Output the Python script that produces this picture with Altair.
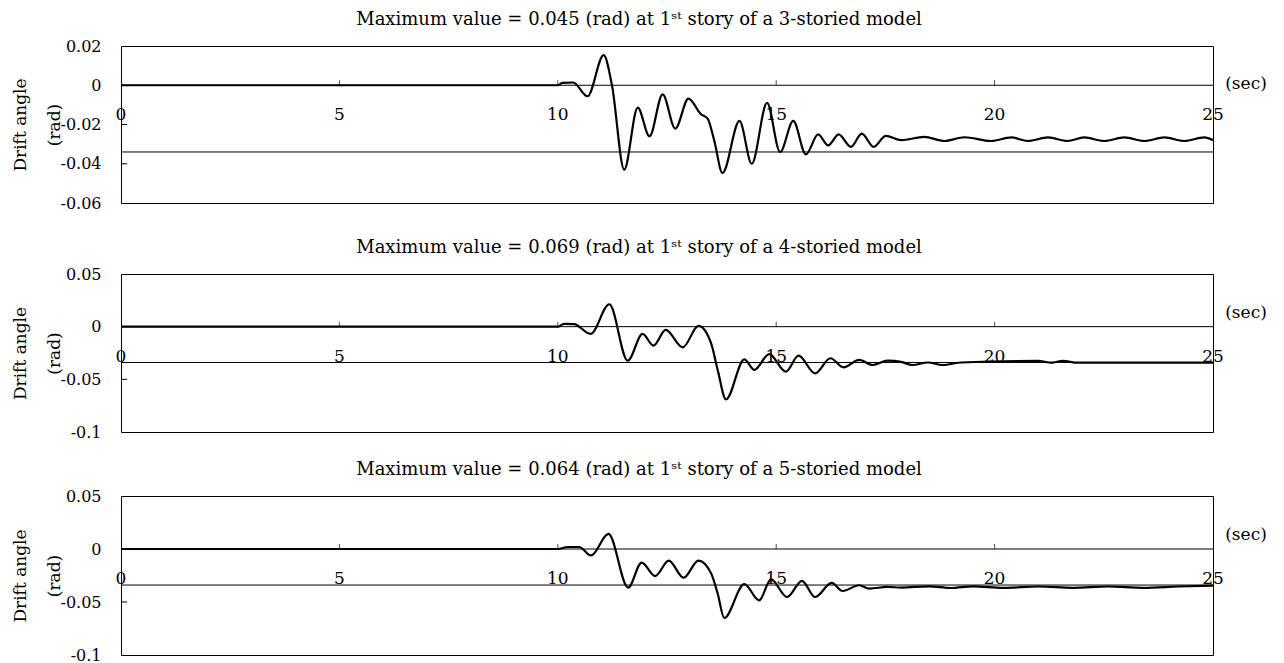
import altair as alt
import pandas as pd

# ---------------- data ----------------
t1 = [0, 10.0, 10.1, 10.35, 10.68, 11.05, 11.24, 11.52, 11.83, 12.10, 12.40, 12.69, 12.99,
      13.28, 13.43, 13.58, 13.77, 14.16, 14.44, 14.79, 15.09, 15.39, 15.68, 15.96, 16.19,
      16.43, 16.71, 16.96, 17.23, 17.51, 17.86, 18.39, 18.85, 19.31, 19.92, 20.38, 20.76,
      21.22, 21.67, 22.05, 22.51, 22.97, 23.43, 23.89, 24.34, 24.80, 25.0]
v1 = [0, 0, 0.0012, 0.0014, -0.0056, 0.0153, 0.0, -0.043, -0.0114, -0.026, -0.0046, -0.0221, -0.0068,
      -0.0148, -0.017, -0.028, -0.0447, -0.0182, -0.040, -0.009, -0.034, -0.0182, -0.0352, -0.025, -0.0306,
      -0.025, -0.0314, -0.0246, -0.0314, -0.0258, -0.028, -0.0263, -0.0284, -0.0265, -0.0284, -0.0266, -0.0284,
      -0.0266, -0.0284, -0.0266, -0.0284, -0.0266, -0.0284, -0.0266, -0.0284, -0.0266, -0.028]

t2 = [0, 10.0, 10.14, 10.37, 10.75, 11.18, 11.60, 11.94, 12.19, 12.47, 12.86, 13.22, 13.51, 13.66,
      13.85, 14.27, 14.50, 14.84, 15.22, 15.51, 15.89, 16.24, 16.54, 16.90, 17.21, 17.55, 17.86,
      18.12, 18.47, 18.81, 19.23, 20.99, 21.3, 21.56, 21.9, 25.0]
v2 = [0, 0, 0.0026, 0.0024, -0.0069, 0.0213, -0.0323, -0.0069, -0.018, -0.0031, -0.0196, 0.0007, -0.0158, -0.041,
      -0.069, -0.031, -0.041, -0.026, -0.0427, -0.0275, -0.0443, -0.030, -0.0386, -0.0316, -0.0364, -0.0323, -0.0335,
      -0.0364, -0.034, -0.0364, -0.034, -0.0325, -0.0342, -0.0325, -0.0342, -0.0342]

t3 = [0, 10.0, 10.23, 10.49, 10.76, 11.16, 11.61, 11.92, 12.23, 12.54, 12.88, 13.22, 13.51, 13.66,
      13.81, 14.27, 14.61, 14.88, 15.25, 15.59, 15.89, 16.27, 16.52, 16.90, 17.13, 17.55, 17.86,
      18.5, 19.0, 19.5, 20.2, 21.0, 21.8, 22.6, 23.4, 24.2, 25.0]
v3 = [0, 0, 0.0019, 0.0019, -0.0061, 0.0143, -0.0364, -0.0128, -0.0255, -0.0109, -0.0271, -0.0109, -0.023, -0.042,
      -0.065, -0.0332, -0.0485, -0.0287, -0.0453, -0.030, -0.0453, -0.032, -0.0396, -0.0342, -0.0373, -0.0358, -0.0364,
      -0.0352, -0.0368, -0.0352, -0.0366, -0.0354, -0.0366, -0.0354, -0.0366, -0.0354, -0.0345]

titles = [
    "Maximum value = 0.045 (rad) at 1\u02e2\u1d57 story of a 3-storied model",
    "Maximum value = 0.069 (rad) at 1\u02e2\u1d57 story of a 4-storied model",
    "Maximum value = 0.064 (rad) at 1\u02e2\u1d57 story of a 5-storied model",
]
x_label_values = [0, 5, 10, 15, 20, 25]
x_labels = ["0", "5", "10", "15", "20", "25"]
x_tick_values = [5, 10, 15, 20]
y_ticks_1 = [0.02, 0, -0.02, -0.04, -0.06]
y_ticks_23 = [0.05, 0, -0.05, -0.1]
inner_1 = [-0.02, -0.04]
inner_23 = [-0.05]
y_domain_1 = [-0.06, 0.02]
y_domain_23 = [-0.1, 0.05]
limit_value = -0.034
y_title = ["Drift angle", "(rad)"]
sec_label = "(sec)"

FONT = "DejaVu Serif"
W = 1092


def panel(t, v, dom, yticks, inner, title, h, sec_dy):
    xs = alt.Scale(domain=[0, 25], nice=False, zero=False)
    ys = alt.Scale(domain=dom, nice=False, zero=False)
    yaxis = alt.Axis(values=yticks, format=".2~f",
                     labelExpr="replace(datum.label, '\u2212', '-')",
                     ticks=False, domain=False, grid=False,
                     labelFont=FONT, labelFontSize=16, labelColor="black", labelPadding=20,
                     title=y_title, titleFont=FONT, titleFontSize=17, titleFontWeight="normal",
                     titleAngle=270, titleX=-109, titleY=h / 2, titleAlign="center",
                     titleBaseline="top", titleLineHeight=34, titleColor="black")
    xe = alt.X("t:Q", scale=xs, axis=None)
    ye = alt.Y("v:Q", scale=ys, axis=yaxis)

    df = pd.DataFrame({"t": t, "v": v})
    line = alt.Chart(df).mark_line(color="black", strokeWidth=2.2,
                                   interpolate="monotone").encode(x=xe, y=ye)

    hr = pd.DataFrame({"v": [0, limit_value]})
    rules = alt.Chart(hr).mark_rule(color="black", strokeWidth=1).encode(y=ye)

    itk = pd.DataFrame({"t": [0] * len(inner), "t2": [0.14] * len(inner), "v": inner})
    inner_ticks = alt.Chart(itk).mark_rule(color="black", strokeWidth=1).encode(
        x=xe, x2="t2:Q", y=ye)

    xt = pd.DataFrame({"t": x_tick_values, "v": [0] * len(x_tick_values)})
    xticks = alt.Chart(xt).mark_tick(orient="vertical", size=5, thickness=1,
                                     color="black", yOffset=-2.5).encode(x=xe, y=ye)

    xl = pd.DataFrame({"t": x_label_values, "v": [0] * len(x_label_values), "lab": x_labels})
    xlabels = alt.Chart(xl).mark_text(font=FONT, fontSize=17, color="black",
                                      baseline="middle", dy=30).encode(
        x=xe, y=ye, text="lab:N")

    sd = pd.DataFrame({"t": [25], "v": [0], "lab": [sec_label]})
    sec = alt.Chart(sd).mark_text(font=FONT, fontSize=17, color="black",
                                  baseline="middle", dx=33, dy=sec_dy).encode(
        x=xe, y=ye, text="lab:N")

    return alt.layer(rules, inner_ticks, xticks, line, xlabels, sec).properties(
        width=W, height=h,
        title=alt.TitleParams(text=title, font=FONT, fontSize=18, fontWeight="normal",
                              anchor="middle", dx=-28, offset=-5, baseline="alphabetic",
                              color="black"))


p1 = panel(t1, v1, y_domain_1, y_ticks_1, inner_1, titles[0], 157, -1)
p2 = panel(t2, v2, y_domain_23, y_ticks_23, inner_23, titles[1], 158, -14)
p3 = panel(t3, v3, y_domain_23, y_ticks_23, inner_23, titles[2], 159, -14)

chart = alt.vconcat(alt.vconcat(p1, p2, spacing=26), p3, spacing=19).configure_view(
    stroke="black", strokeWidth=1).properties(
    padding={"left": 2, "top": 2, "right": 5, "bottom": 2}, background="white")

chart.save("out.html", embed_options={"renderer": "svg", "actions": False})
